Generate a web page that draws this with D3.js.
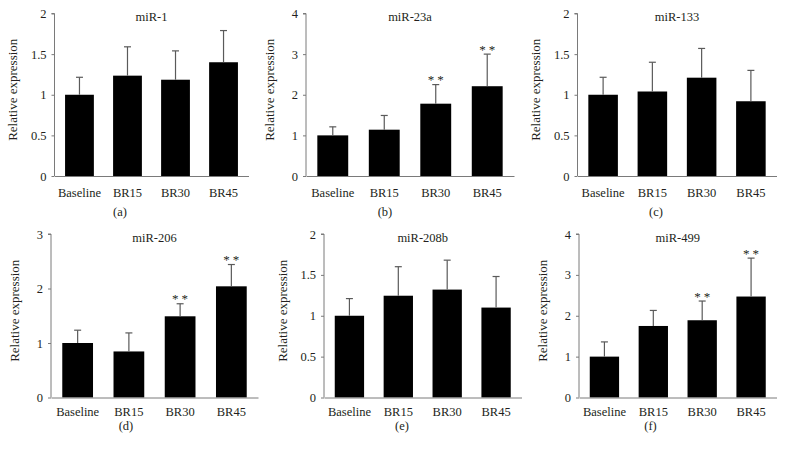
<!DOCTYPE html>
<html>
<head>
<meta charset="utf-8">
<script src="https://cdn.jsdelivr.net/npm/d3@7"></script>
<style>
  html, body { margin: 0; padding: 0; background: #fff; }
  svg { display: block; }
  text { font-family: "Liberation Serif", "Times New Roman", serif; fill: #231f20; }
</style>
</head>
<body>
<svg id="chart" width="785" height="459"></svg>
<script>
// ---------------- data ----------------
const categories = ["Baseline", "BR15", "BR30", "BR45"];
const titles = ["miR-1", "miR-23a", "miR-133", "miR-206", "miR-208b", "miR-499"];
const panelLabels = ["(a)", "(b)", "(c)", "(d)", "(e)", "(f)"];
const yAxisTitle = "Relative expression";

const miR1Mean    = [1.00, 1.235, 1.185, 1.40];
const miR1Sd      = [0.215, 0.355, 0.355, 0.39];
const miR23aMean  = [1.00, 1.14, 1.78, 2.21];
const miR23aSd    = [0.21, 0.35, 0.47, 0.79];
const miR133Mean  = [1.00, 1.04, 1.21, 0.92];
const miR133Sd    = [0.215, 0.36, 0.36, 0.38];
const miR206Mean  = [1.00, 0.845, 1.49, 2.04];
const miR206Sd    = [0.235, 0.34, 0.23, 0.40];
const miR208bMean = [1.00, 1.245, 1.32, 1.10];
const miR208bSd   = [0.21, 0.355, 0.36, 0.38];
const miR499Mean  = [1.00, 1.75, 1.89, 2.47];
const miR499Sd    = [0.36, 0.38, 0.47, 0.94];

const noSig   = [false, false, false, false];
const sigLate = [false, false, true, true];

const yMaxes = [2, 4, 2, 3, 2, 4];
const yTickValues = [
  [0, 0.5, 1, 1.5, 2],
  [0, 1, 2, 3, 4],
  [0, 0.5, 1, 1.5, 2],
  [0, 1, 2, 3],
  [0, 0.5, 1, 1.5, 2],
  [0, 1, 2, 3, 4]
];

const panels = [
  { mean: miR1Mean,    sd: miR1Sd,    sig: noSig },
  { mean: miR23aMean,  sd: miR23aSd,  sig: sigLate },
  { mean: miR133Mean,  sd: miR133Sd,  sig: noSig },
  { mean: miR206Mean,  sd: miR206Sd,  sig: sigLate },
  { mean: miR208bMean, sd: miR208bSd, sig: noSig },
  { mean: miR499Mean,  sd: miR499Sd,  sig: sigLate }
];

// ---------------- layout (positions only) ----------------
const rows = [
  { top: 13.5, bottom: 176,   catPad: 12,  labelY: 216 },
  { top: 234,  bottom: 397.5, catPad: 10,  labelY: 430 }
];
const layout = [
  { x0: 54.5, x1: 248.5, row: 0, labelX: 120 },
  { x0: 306,  x1: 514,   row: 0, labelX: 385 },
  { x0: 577.5,x1: 776.5, row: 0, labelX: 656 },
  { x0: 51,   x1: 258,   row: 1, labelX: 126 },
  { x0: 324,  x1: 521.5, row: 1, labelX: 402 },
  { x0: 579,  x1: 776.5, row: 1, labelX: 650.5 }
];

const axisColor = "#7a7a7a";
const errColor = "#5a5a5a";
const textColor = "#231f20";
const fontSize = 12.5;

const svg = d3.select("#chart");
svg.append("rect").attr("width", 785).attr("height", 459).attr("fill", "#fff");

panels.forEach((p, i) => {
  const L = layout[i];
  const R = rows[L.row];
  const g = svg.append("g");

  const x = d3.scaleBand().domain(categories).range([L.x0, L.x1])
    .paddingInner(0.4).paddingOuter(0.22);
  const y = d3.scaleLinear().domain([0, yMaxes[i]]).range([R.bottom, R.top]);

  // bars
  g.selectAll("rect.bar").data(categories).join("rect")
    .attr("class", "bar")
    .attr("x", d => x(d))
    .attr("width", x.bandwidth())
    .attr("y", (d, k) => y(p.mean[k]))
    .attr("height", (d, k) => y(0) - y(p.mean[k]))
    .attr("fill", "#000");

  // error bars (upper only)
  const cap = 3.5;
  categories.forEach((c, k) => {
    const cx = x(c) + x.bandwidth() / 2;
    const yTop = y(p.mean[k] + p.sd[k]);
    g.append("line").attr("x1", cx).attr("x2", cx)
      .attr("y1", y(p.mean[k])).attr("y2", yTop)
      .attr("stroke", errColor).attr("stroke-width", 1.2);
    g.append("line").attr("x1", cx - cap).attr("x2", cx + cap)
      .attr("y1", yTop).attr("y2", yTop)
      .attr("stroke", errColor).attr("stroke-width", 1.2);
    if (p.sig[k]) {
      g.append("text").attr("x", cx + 1.5).attr("y", yTop - 0.5)
        .attr("text-anchor", "middle")
        .attr("font-size", 13)
        .attr("letter-spacing", "3px")
        .style("fill", textColor)
        .text("**");
    }
  });

  // y axis
  const yAxis = d3.axisLeft(y).tickValues(yTickValues[i])
    .tickSize(3).tickPadding(5)
    .tickFormat(d => String(d));
  const ya = g.append("g").attr("transform", `translate(${L.x0},0)`).call(yAxis);
  ya.select(".domain").attr("stroke", axisColor).attr("d", `M-3,${R.top}H0V${R.bottom}`);
  ya.selectAll(".tick line").attr("stroke", axisColor);
  ya.selectAll(".tick text").attr("font-size", fontSize)
    .attr("font-family", "Liberation Serif, serif").style("fill", textColor);

  // x axis
  const xAxis = d3.axisBottom(x).tickSize(0).tickPadding(R.catPad);
  const xa = g.append("g").attr("transform", `translate(0,${R.bottom})`).call(xAxis);
  xa.select(".domain").attr("stroke", axisColor);
  xa.selectAll(".tick text").attr("font-size", fontSize)
    .attr("font-family", "Liberation Serif, serif").style("fill", textColor);

  // title
  g.append("text").attr("x", (L.x0 + L.x1) / 2).attr("y", R.top + 7.5)
    .attr("text-anchor", "middle").attr("font-size", fontSize)
    .text(titles[i]);

  // y axis title
  const decimals = yTickValues[i].some(v => v % 1 !== 0);
  const yl = L.x0 - (decimals ? 37.5 : 32);
  const ym = (R.top + R.bottom) / 2 - 5;
  g.append("text")
    .attr("transform", `translate(${yl},${ym}) rotate(-90)`)
    .attr("text-anchor", "middle").attr("font-size", 13)
    .text(yAxisTitle);

  // panel label
  g.append("text").attr("x", L.labelX).attr("y", R.labelY)
    .attr("text-anchor", "middle").attr("font-size", fontSize)
    .text(panelLabels[i]);
});
</script>
</body>
</html>
